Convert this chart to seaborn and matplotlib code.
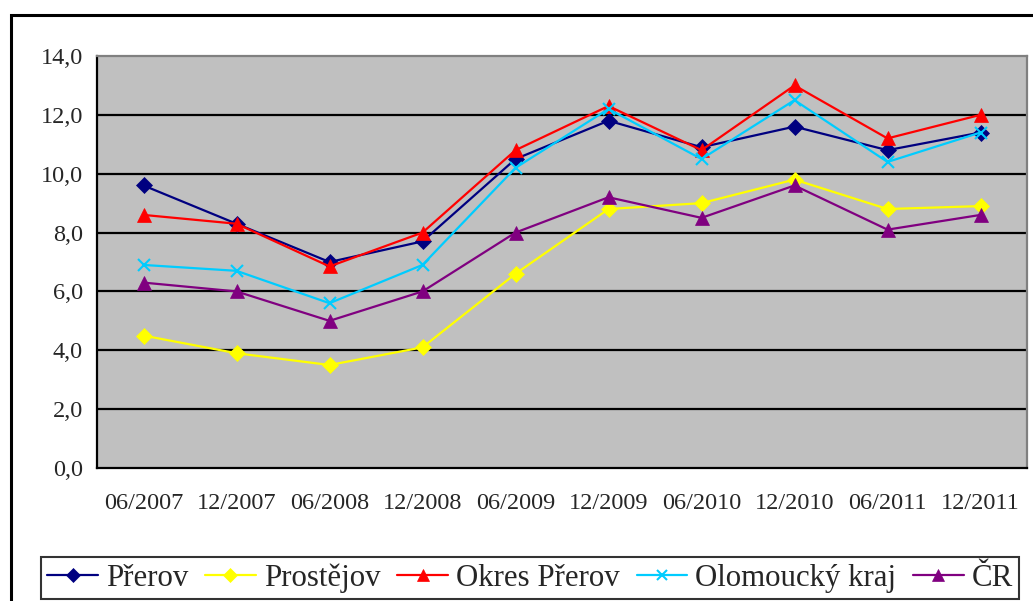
import matplotlib
matplotlib.use("Agg")
import matplotlib.pyplot as plt
from matplotlib.patches import Rectangle
from matplotlib.lines import Line2D
import seaborn as sns
import pandas as pd
import numpy as np

periods = ["06/2007", "12/2007", "06/2008", "12/2008", "06/2009",
           "12/2009", "06/2010", "12/2010", "06/2011", "12/2011"]
prerov = [9.6, 8.3, 7.0, 7.7, 10.5, 11.8, 10.9, 11.6, 10.8, 11.4]
prostejov = [4.5, 3.9, 3.5, 4.1, 6.6, 8.8, 9.0, 9.8, 8.8, 8.9]
okres_prerov = [8.6, 8.3, 6.85, 8.0, 10.8, 12.3, 10.8, 13.0, 11.2, 12.0]
olomoucky = [6.9, 6.7, 5.6, 6.9, 10.2, 12.2, 10.5, 12.5, 10.4, 11.4]
cr = [6.3, 6.0, 5.0, 6.0, 8.0, 9.2, 8.5, 9.6, 8.1, 8.6]
y_ticks = [0, 2, 4, 6, 8, 10, 12, 14]

series_names = ["Přerov", "Prostějov", "Okres Přerov", "Olomoucký kraj", "ČR"]
series_vals = [prerov, prostejov, okres_prerov, olomoucky, cr]
colors = {"Přerov": "#000080", "Prostějov": "#FFFF00", "Okres Přerov": "#FF0000",
          "Olomoucký kraj": "#00CCFF", "ČR": "#800080"}
markers = {"Přerov": "D", "Prostějov": "D", "Okres Přerov": "^",
           "Olomoucký kraj": "x", "ČR": "^"}
msizes = {"Přerov": 8, "Prostějov": 8, "Okres Přerov": 10,
          "Olomoucký kraj": 8, "ČR": 10}

rows = []
for name, vals in zip(series_names, series_vals):
    for i, (p, v) in enumerate(zip(periods, vals)):
        rows.append({"period": p, "pos": i, "series": name, "value": v})
df = pd.DataFrame(rows)

sns.set_theme(style="white")
plt.rcParams["font.family"] = ["Liberation Serif", "DejaVu Serif"]

fig = plt.figure(figsize=(10.33, 6.01), dpi=100)
ax = fig.add_axes([97/1033, 1-468/601, (1027-97)/1033, (468-56)/601])
ax.set_facecolor("#C0C0C0")

for name in series_names:
    sub = df[df["series"] == name]
    sns.lineplot(data=sub, x="pos", y="value", ax=ax, color=colors[name],
                 marker=markers[name], markersize=msizes[name],
                 markeredgecolor=colors[name], markeredgewidth=1.5 if markers[name] == "x" else 0.5,
                 linewidth=1.6, label=name, legend=False)

ax.set_xlim(-0.5, 9.5)
ax.set_ylim(0, 14)
ax.set_yticks(y_ticks)
ax.set_yticklabels([f"{t:.1f}".replace(".", ",") for t in y_ticks], fontsize=17.5)
for t in y_ticks[1:-1]:
    ax.axhline(t, color="black", linewidth=1.6, zorder=0.5)

ax.set_xticks(np.arange(-0.5, 10, 1))
ax.set_xticklabels([])
ax.set_xticks(np.arange(0, 10), minor=True)
ax.set_xticklabels(periods, minor=True, fontsize=17.5)
ax.tick_params(axis="x", which="major", direction="out", length=9, width=1.5, color="black")
ax.tick_params(axis="x", which="minor", length=0, pad=18)
ax.tick_params(axis="y", direction="out", length=6, width=1.5, color="black", pad=4)
ax.set_xlabel("")
ax.set_ylabel("")

for s in ["left", "bottom"]:
    ax.spines[s].set_color("black")
    ax.spines[s].set_linewidth(1.6)
for s in ["top", "right"]:
    ax.spines[s].set_color("#808080")
    ax.spines[s].set_linewidth(1.6)

# outer chart border
fig.patches.append(Rectangle((11/1033, -0.05), 1.1, 1 - 15/601 + 0.05,
                             transform=fig.transFigure, fill=False,
                             edgecolor="black", linewidth=2.2, clip_on=False))

handles = []
for name in series_names:
    handles.append(Line2D([0], [0], color=colors[name], marker=markers[name],
                          markersize=msizes[name] - 1, linewidth=1.6,
                          markeredgecolor=colors[name],
                          markeredgewidth=1.5 if markers[name] == "x" else 0.5))
leg = fig.legend(handles, series_names, loc="center", bbox_to_anchor=(530/1033, 1-578/601),
                 ncol=5, fontsize=22.2, frameon=True, fancybox=False, edgecolor="black",
                 handlelength=1.65, handletextpad=0.25, columnspacing=0.55,
                 borderpad=0.2, borderaxespad=0)
leg.get_frame().set_linewidth(1.5)

fig.savefig("out.png", dpi=100)
